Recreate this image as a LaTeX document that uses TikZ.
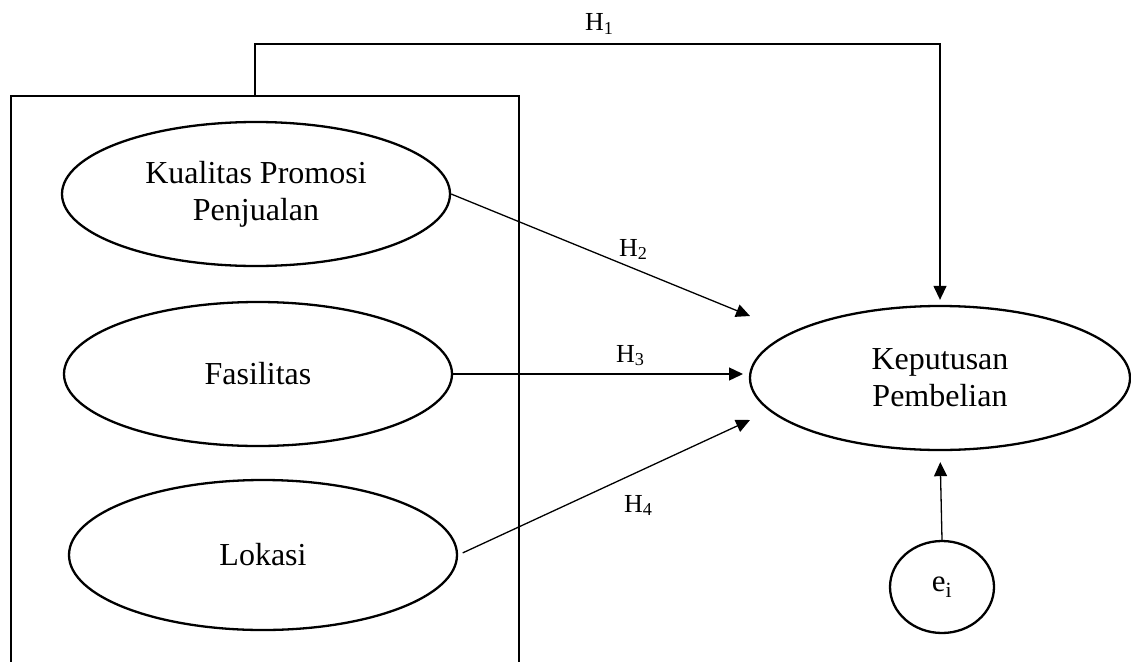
\documentclass[tikz,border=0pt]{standalone}
\usepackage{fontspec}
\setmainfont{Liberation Serif}
\usetikzlibrary{arrows.meta,shapes.geometric}
\begin{document}
\begin{tikzpicture}[x=1pt,y=-1pt,
  var/.style={ellipse, draw, line width=2.3pt, minimum width=388pt, minimum height=144pt,
    inner sep=0pt, align=center, font=\fontsize{32}{37}\selectfont},
  conn/.style={line width=1.3pt, -{Triangle[length=14pt,width=13pt]}},
  hlab/.style={anchor=base west, inner sep=0pt, font=\fontsize{26}{30}\selectfont}]
\useasboundingbox (0,0) rectangle (1131,661);
\clip (0,0) rectangle (1131,661);
\node[draw, line width=2.2pt, minimum width=508pt, minimum height=620pt, anchor=north west, inner sep=0pt] (box) at (10,95) {};
\node[var] (kq) at (256,194) {Kualitas Promosi\\Penjualan};
\node[var] (fs) at (258,374) {Fasilitas};
\node[var, minimum height=150pt] (lk) at (263,555) {Lokasi};
\node[var, minimum width=380pt] (kp) at (940,378) {Keputusan\\Pembelian};
\node[ellipse, draw, line width=2.3pt, minimum width=104pt, minimum height=92pt, inner sep=0pt,
  font=\fontsize{31}{34}\selectfont] (ei) at (942,587) {e\textsubscript{i}};
\coordinate (h1s) at (255,95);
\coordinate (h1a) at (255,44);
\coordinate (t2) at (750,316);
\coordinate (t3) at (743,374);
\coordinate (t4) at (750,420);
\draw[conn, shorten >=5pt] (h1s) -- (h1a) -| (kp.north);
\draw[conn] (kq.east) -- (t2);
\draw[conn] (fs.east) -- (t3);
\draw[conn, shorten <=5pt] (lk.east) -- (t4);
\draw[conn, shorten >=11pt] (ei.north) -- (kp.south);
\node[hlab] (l1) at (585,31) {H\textsubscript{1}};
\node[hlab] (l2) at (619,256) {H\textsubscript{2}};
\node[hlab] (l3) at (616,362) {H\textsubscript{3}};
\node[hlab] (l4) at (624,512) {H\textsubscript{4}};
\end{tikzpicture}
\end{document}
